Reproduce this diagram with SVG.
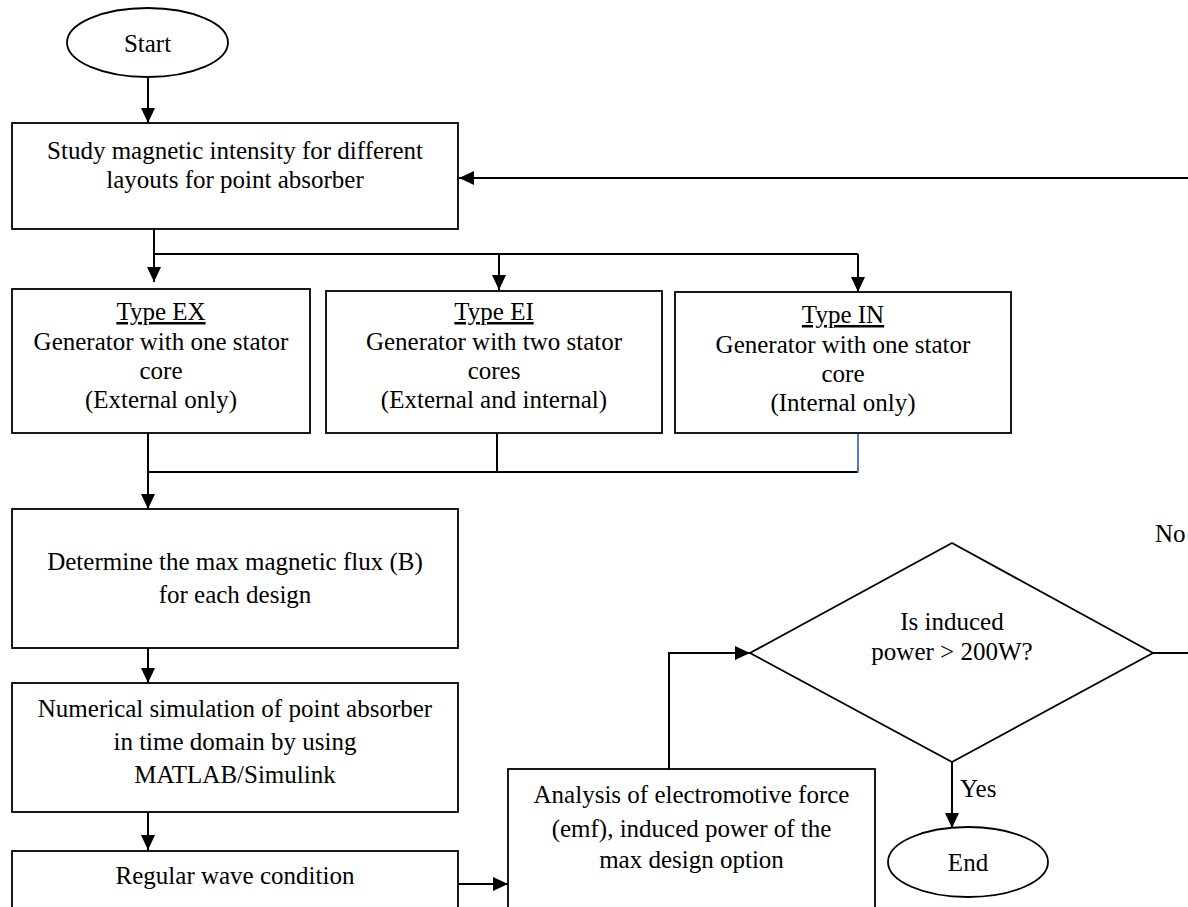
<svg xmlns="http://www.w3.org/2000/svg" width="1188" height="907" viewBox="0 0 1188 907">
<defs>
<marker id="ah" markerWidth="15" markerHeight="14" refX="15" refY="7" orient="auto" markerUnits="userSpaceOnUse"><path d="M0,0 L15,7 L0,14 z" fill="#000"/></marker>
</defs>
<style>
.box{fill:#fff;stroke:#000;stroke-width:1.8}
.t{font-family:"Liberation Serif","Times New Roman",serif;font-size:25px;fill:#000;text-anchor:middle}
.l{font-family:"Liberation Serif","Times New Roman",serif;font-size:25px;fill:#000}
.u{text-decoration:underline}
.c{fill:none;stroke:#000;stroke-width:2}
.a{marker-end:url(#ah)}
</style>
<rect width="1188" height="907" fill="#fff"/>
<g id="connectors">
<path class="c a" d="M148,77 V123"/>
<path class="c a" d="M154,229 V282"/>
<path class="c" d="M154,254 H858"/>
<path class="c a" d="M499,254 V290"/>
<path class="c a" d="M858,254 V292"/>
<path class="c a" d="M1188,178 H459"/>
<path class="c a" d="M148,433 V509"/>
<path class="c" d="M148,472 H858"/>
<path class="c" d="M497,433 V472"/>
<path d="M858,432 V473" fill="none" stroke="#4F81BD" stroke-width="2"/>
<path class="c a" d="M148,648 V683"/>
<path class="c a" d="M148,812 V850"/>
<path class="c a" d="M458,884 H508"/>
<path class="c a" d="M669,769 V653 H750"/>
<path class="c a" d="M952,762 V828"/>
<path class="c" d="M1153,653 H1188"/>
<text class="l" x="1155" y="542">No</text>
<text class="l" x="960" y="797">Yes</text>
</g>
<g id="start">
<ellipse class="box" cx="147.5" cy="42.5" rx="80.5" ry="34.5"/>
<text class="t" x="147.5" y="52">Start</text>
</g>
<g id="study">
<rect class="box" x="12" y="123" width="446" height="106"/>
<text class="t" x="235" y="159">Study magnetic intensity for different</text>
<text class="t" x="235" y="188">layouts for point absorber</text>
</g>
<g id="typeEX">
<rect class="box" x="12" y="289" width="298" height="144"/>
<text class="t u" x="161" y="320">Type EX</text>
<text class="t" x="161" y="350">Generator with one stator</text>
<text class="t" x="161" y="379">core</text>
<text class="t" x="161" y="408">(External only)</text>
</g>
<g id="typeEI">
<rect class="box" x="326" y="291" width="336" height="142"/>
<text class="t u" x="494" y="320">Type EI</text>
<text class="t" x="494" y="350">Generator with two stator</text>
<text class="t" x="494" y="379">cores</text>
<text class="t" x="494" y="408">(External and internal)</text>
</g>
<g id="typeIN">
<rect class="box" x="675" y="292" width="336" height="141"/>
<text class="t u" x="843" y="323">Type IN</text>
<text class="t" x="843" y="353">Generator with one stator</text>
<text class="t" x="843" y="382">core</text>
<text class="t" x="843" y="411">(Internal only)</text>
</g>
<g id="determine">
<rect class="box" x="12" y="509" width="446" height="139"/>
<text class="t" x="235" y="570">Determine the max magnetic flux (B)</text>
<text class="t" x="235" y="603">for each design</text>
</g>
<g id="numerical">
<rect class="box" x="12" y="683" width="446" height="129"/>
<text class="t" x="235" y="717">Numerical simulation of point absorber</text>
<text class="t" x="235" y="750">in time domain by using</text>
<text class="t" x="235" y="783">MATLAB/Simulink</text>
</g>
<g id="regular">
<rect class="box" x="12" y="851" width="446" height="80"/>
<text class="t" x="235" y="884">Regular wave condition</text>
</g>
<g id="analysis">
<rect class="box" x="508" y="769" width="367" height="160"/>
<text class="t" x="691.5" y="803">Analysis of electromotive force</text>
<text class="t" x="691.5" y="837">(emf), induced power of the</text>
<text class="t" x="691.5" y="868">max design option</text>
</g>
<g id="decision">
<polygon class="box" points="952,543 1153,653 952,762 750,653"/>
<text class="t" x="952" y="630">Is induced</text>
<text class="t" x="952" y="660">power &gt; 200W?</text>
</g>
<g id="end">
<ellipse class="box" cx="968" cy="862" rx="80" ry="35"/>
<text class="t" x="968" y="871">End</text>
</g>
</svg>
